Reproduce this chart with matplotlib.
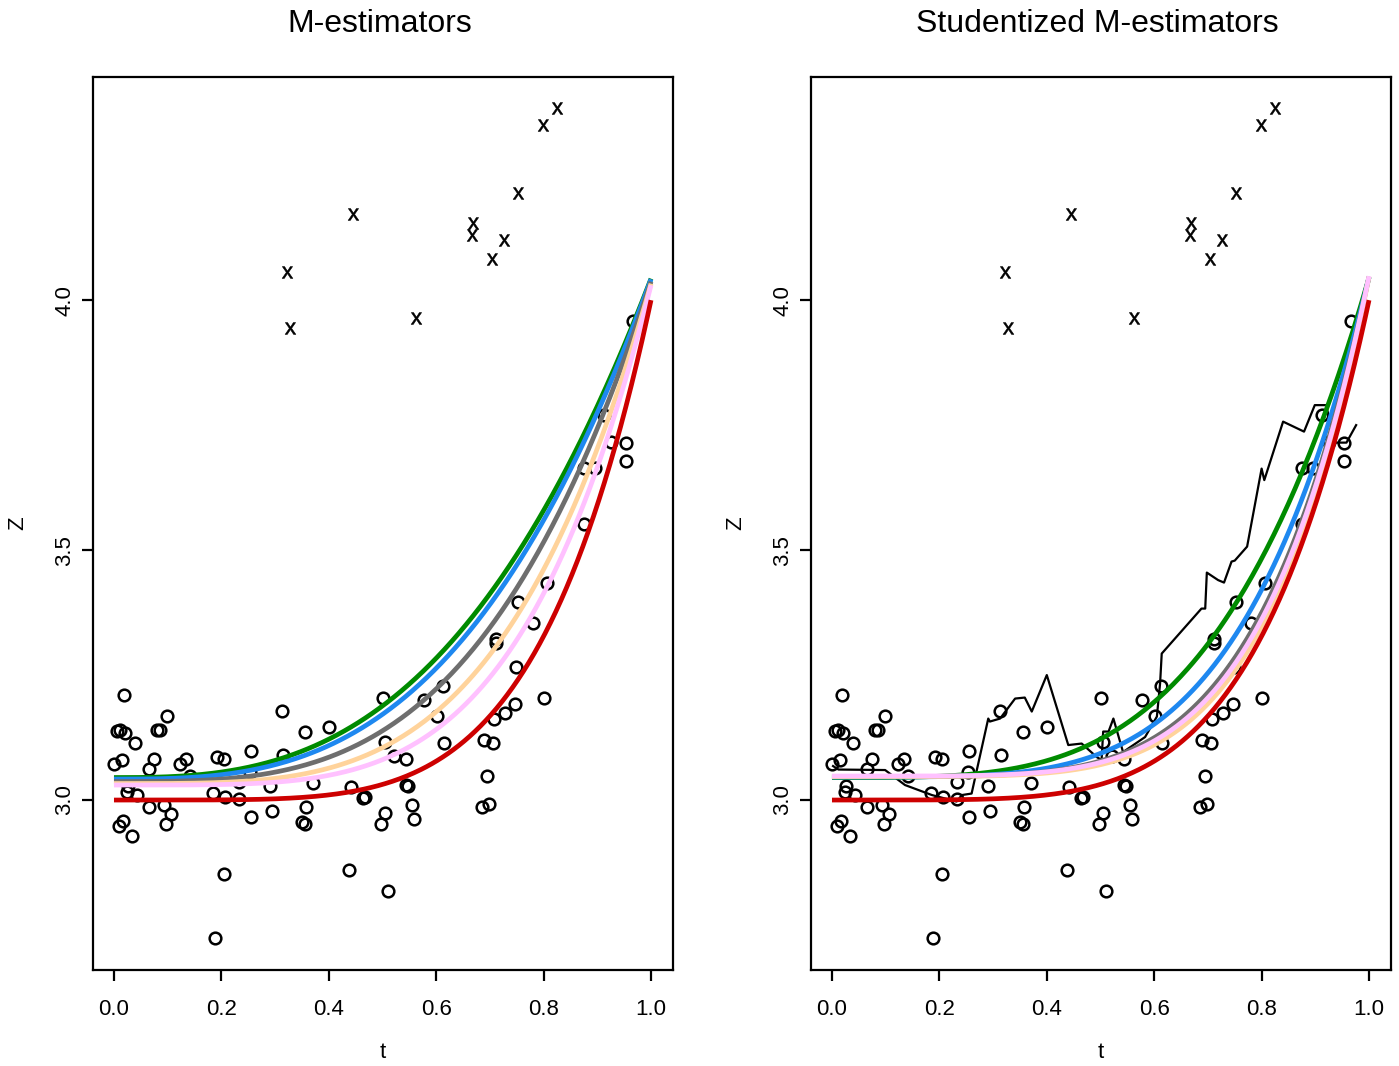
import matplotlib
matplotlib.use("Agg")
import numpy as np
import matplotlib.pyplot as plt

plt.rcParams['font.family'] = ['Liberation Sans', 'DejaVu Sans']

# observed data (circles)
t_obs = [0.018, 0.006, 0.012, 0.020, 0.040, 0.000, 0.015, 0.025, 0.043, 0.017,
         0.010, 0.034, 0.065, 0.075, 0.081, 0.085, 0.098, 0.065, 0.093, 0.106,
         0.097, 0.122, 0.135, 0.141, 0.188, 0.191, 0.205, 0.185, 0.206, 0.233,
         0.205, 0.255, 0.256, 0.295, 0.290, 0.313, 0.314, 0.356, 0.357, 0.351,
         0.355, 0.400, 0.370, 0.442, 0.437, 0.463, 0.467, 0.501, 0.504, 0.505,
         0.497, 0.511, 0.027, 0.232, 0.254,
         0.954, 0.953, 0.925, 0.913, 0.876, 0.896, 0.875, 0.807, 0.753, 0.781,
         0.711, 0.711, 0.749, 0.800, 0.747, 0.728, 0.708, 0.613, 0.578, 0.601,
         0.614, 0.521, 0.544, 0.689, 0.706, 0.544, 0.548, 0.695, 0.555, 0.559,
         0.686, 0.699, 0.967]
z_obs = [3.211, 3.138, 3.141, 3.135, 3.115, 3.073, 3.081, 3.017, 3.011, 2.958,
         2.948, 2.929, 3.063, 3.083, 3.141, 3.141, 3.169, 2.987, 2.990, 2.973,
         2.953, 3.073, 3.082, 3.049, 2.725, 3.086, 3.082, 3.014, 3.007, 3.002,
         2.852, 3.099, 2.967, 2.978, 3.028, 3.179, 3.091, 3.137, 2.986, 2.957,
         2.953, 3.147, 3.035, 3.027, 2.860, 3.004, 3.007, 3.205, 3.116, 2.975,
         2.952, 2.819, 3.028, 3.037, 3.057,
         3.715, 3.679, 3.717, 3.771, 3.665, 3.665, 3.552, 3.434, 3.396, 3.355,
         3.323, 3.315, 3.266, 3.205, 3.193, 3.174, 3.163, 3.228, 3.201, 3.168,
         3.114, 3.088, 3.082, 3.121, 3.115, 3.030, 3.028, 3.048, 2.990, 2.962,
         2.987, 2.993, 3.958]

# outliers (drawn as "x")
t_out = [0.322, 0.328, 0.445, 0.562, 0.669, 0.667, 0.704, 0.726, 0.752, 0.799, 0.825]
z_out = [4.056, 3.944, 4.172, 3.964, 4.154, 4.130, 4.082, 4.120, 4.214, 4.350, 4.385]

# fitted curves z = a + b * t^c, one entry per estimator
curve_colors = ['#008B00', '#1E88F0', '#6E6E6E', '#FFD39B', '#FFC1FF', '#CD0000']
left_a = [3.045, 3.042, 3.037, 3.033, 3.030, 3.000]
left_b = [0.998, 1.000, 1.000, 1.000, 1.000, 1.000]
left_c = [2.80, 2.95, 3.30, 3.80, 4.30, 5.00]
right_a = [3.045, 3.046, 3.047, 3.047, 3.048, 3.000]
right_b = [1.000, 1.000, 1.000, 1.000, 1.000, 1.000]
right_c = [3.70, 4.40, 5.00, 5.40, 5.20, 5.00]

# running estimate (black line, right panel)
t_run = [0.002, 0.012, 0.099, 0.136, 0.186, 0.232, 0.242, 0.260, 0.291, 0.294,
         0.313, 0.341, 0.359, 0.372, 0.400, 0.440, 0.465, 0.493, 0.502, 0.505,
         0.515, 0.524, 0.542, 0.583, 0.605, 0.611, 0.614, 0.688, 0.695, 0.698,
         0.719, 0.730, 0.744, 0.750, 0.773, 0.800, 0.805, 0.840, 0.879, 0.899,
         0.920, 0.925, 0.937, 0.958, 0.976]
z_run = [3.068, 3.061, 3.060, 3.030, 3.010, 2.997, 3.010, 3.013, 3.163, 3.157,
         3.163, 3.203, 3.205, 3.177, 3.250, 3.110, 3.113, 3.086, 3.080, 3.137,
         3.137, 3.163, 3.096, 3.126, 3.167, 3.234, 3.293, 3.383, 3.383, 3.455,
         3.440, 3.435, 3.477, 3.479, 3.507, 3.663, 3.640, 3.757, 3.737, 3.790,
         3.790, 3.767, 3.715, 3.715, 3.750]

titles = ['M-estimators', 'Studentized M-estimators']

W, H = 1399, 1066
fig = plt.figure(figsize=(W / 100, H / 100), dpi=100)

panel_left = [92.5, 810.5]
box_w = 580
box_top, box_bot = 76.7, 970

tgrid = np.linspace(0, 1, 300)

for k in range(2):
    x0 = panel_left[k]
    ax = fig.add_axes([x0 / W, 1 - box_bot / H, box_w / W, (box_bot - box_top) / H])

    ax.plot(t_obs, z_obs, ls='none', marker='o', mfc='none', mec='black',
            ms=8.4, mew=1.8, zorder=2)
    ax.plot(t_out, z_out, ls='none', marker=r'$\mathregular{x}$', color='black',
            ms=8.5, mew=0.4, zorder=2)

    if k == 0:
        pa, pb, pc = left_a, left_b, left_c
    else:
        pa, pb, pc = right_a, right_b, right_c
        ax.plot(t_run, z_run, color='black', lw=1.6, zorder=3)

    for i in range(len(curve_colors)):
        ax.plot(tgrid, pa[i] + pb[i] * tgrid ** pc[i], color=curve_colors[i],
                lw=3.4, solid_capstyle='butt', zorder=4 + i)

    ax.set_xlim(-0.04, 1.04)
    ax.set_ylim(2.660, 4.447)
    ax.set_xticks([0.0, 0.2, 0.4, 0.6, 0.8, 1.0])
    ax.set_xticklabels(['0.0', '0.2', '0.4', '0.6', '0.8', '1.0'])
    ax.set_yticks([3.0, 3.5, 4.0])
    ax.set_yticklabels(['3.0', '3.5', '4.0'], rotation=90, va='center')
    for sp in ax.spines.values():
        sp.set_linewidth(1.6)
    ax.tick_params(axis='both', length=7.8, width=1.6, labelsize=16)
    ax.tick_params(axis='x', pad=13)
    ax.tick_params(axis='y', pad=4.5)

    cx = (x0 + box_w / 2) / W
    fig.text(cx - 3 / W, 1 - 32 / H, titles[k], ha='center', va='baseline', fontsize=23)
    fig.text(cx, 1 - 1053 / H, 't', ha='center', va='center', fontsize=16)
    fig.text((x0 - 74.5) / W, 1 - 523 / H, 'Z', rotation=90, ha='center',
             va='center', fontsize=16)

fig.savefig('out.png', dpi=100)
